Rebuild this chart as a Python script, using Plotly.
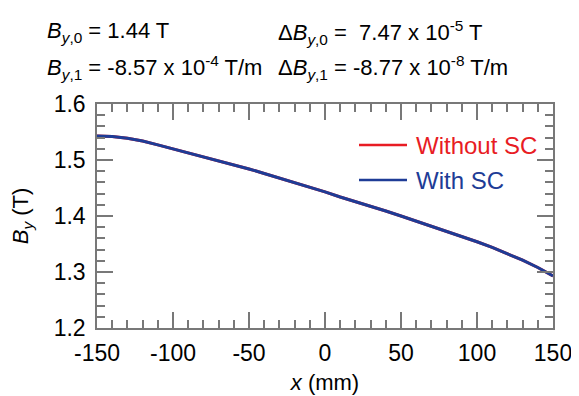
import plotly.graph_objects as go

x_mm = [-150, -140, -130, -120, -110, -100, -90, -80, -70, -60, -50, -40, -30, -20, -10,
        0, 10, 20, 30, 40, 50, 60, 70, 80, 90, 100, 110, 120, 130, 140, 150]
by_with_sc = [1.543, 1.542, 1.539, 1.534, 1.527, 1.520, 1.513, 1.506, 1.499, 1.492, 1.484,
              1.476, 1.468, 1.460, 1.451, 1.443, 1.434, 1.426, 1.417, 1.409, 1.400, 1.391,
              1.382, 1.373, 1.364, 1.354, 1.344, 1.333, 1.321, 1.308, 1.293]
by_without_sc = list(by_with_sc)

x_ticks = [-150, -100, -50, 0, 50, 100, 150]
x_ticktext = ["-150", "-100", "-50", "0", "50", "100", "150"]
y_ticks = [1.2, 1.3, 1.4, 1.5, 1.6]
y_ticktext = ["1.2", "1.3", "1.4", "1.5", "1.6"]
series_names = ["Without SC", "With SC"]

RED = "rgb(232,28,36)"
BLUE = "rgb(30,60,150)"
FONT = "Arial, Liberation Sans, sans-serif"
AX = "rgb(120,120,120)"

fig = go.Figure()
fig.add_trace(go.Scatter(x=x_mm, y=by_without_sc, mode="lines",
                         line=dict(color=RED, width=3), name=series_names[0], showlegend=False))
fig.add_trace(go.Scatter(x=x_mm, y=by_with_sc, mode="lines",
                         line=dict(color=BLUE, width=3), name=series_names[1], showlegend=False))

# page is 579x396 but the html body has an 8px default margin
OFF = 8
W, H = 579 - OFF, 396 - OFF
# plot area in page pixels: x 97..553, y 104..328
PL, PR, PT, PB = 97, 553, 104, 328
L, T = PL - OFF, PT - OFF
R, B = W - (PR - OFF), H - (PB - OFF)
pw, ph = PR - PL, PB - PT

def px(xp):
    return (xp - PL) / pw

def py(yp):
    return (PB - yp) / ph

ann = [
    ("<i>B</i><sub><i>y</i>,0</sub> = 1.44 T", 45, 32),
    ("<i>B</i><sub><i>y</i>,1</sub> = -8.57 x 10<sup>-4</sup> T/m", 45, 67),
    ("Δ<i>B</i><sub><i>y</i>,0</sub> =  7.47 x 10<sup>-5</sup> T", 276, 32),
    ("Δ<i>B</i><sub><i>y</i>,1</sub> = -8.77 x 10<sup>-8</sup> T/m", 276, 67),
]
for txt, xp, yp in ann:
    fig.add_annotation(text=txt, x=px(xp), y=py(yp), xref="paper", yref="paper",
                       xanchor="left", yanchor="middle", showarrow=False,
                       font=dict(family=FONT, size=22, color="black"))

# legend (manual, to match long sample lines and coloured text)
for name, col, yp in [(series_names[0], RED, 145), (series_names[1], BLUE, 180)]:
    fig.add_shape(type="line", xref="paper", yref="paper",
                  x0=px(359), x1=px(407), y0=py(yp), y1=py(yp),
                  line=dict(color=col, width=2.5))
    fig.add_annotation(text=name, x=px(414), y=py(yp), xref="paper", yref="paper",
                       xanchor="left", yanchor="middle", showarrow=False,
                       font=dict(family=FONT, size=24, color=col))

axis_common = dict(showline=True, linecolor=AX, linewidth=1.5, mirror="ticks",
                   ticks="inside", tickcolor=AX, tickwidth=1.5, ticklen=16,
                   showgrid=False, zeroline=False, automargin=False,
                   tickfont=dict(family=FONT, size=23, color="black"))

fig.update_xaxes(range=[-150, 150], tickvals=x_ticks, ticktext=x_ticktext, ticklabelstandoff=4,
                 title=dict(text="<i>x</i> (mm)", font=dict(family=FONT, size=22, color="black"), standoff=9),
                 minor=dict(dtick=10, tick0=0, ticks="inside", ticklen=8, tickcolor=AX, tickwidth=1.5),
                 **axis_common)
fig.update_yaxes(range=[1.2, 1.6], tickvals=y_ticks, ticktext=y_ticktext, ticklabelstandoff=5,
                 title=dict(text="<i>B</i><sub><i>y</i></sub> (T)", font=dict(family=FONT, size=22, color="black"), standoff=20),
                 minor=dict(dtick=0.02, tick0=1.2, ticks="inside", ticklen=8, tickcolor=AX, tickwidth=1.5),
                 **axis_common)

fig.update_layout(
    width=W, height=H,
    margin=dict(l=L, r=R, t=T, b=B, autoexpand=False),
    paper_bgcolor="white", plot_bgcolor="white",
    font=dict(family=FONT, size=22, color="black"),
    showlegend=False,
)

fig.write_html("out.html", config={"displayModeBar": False})
